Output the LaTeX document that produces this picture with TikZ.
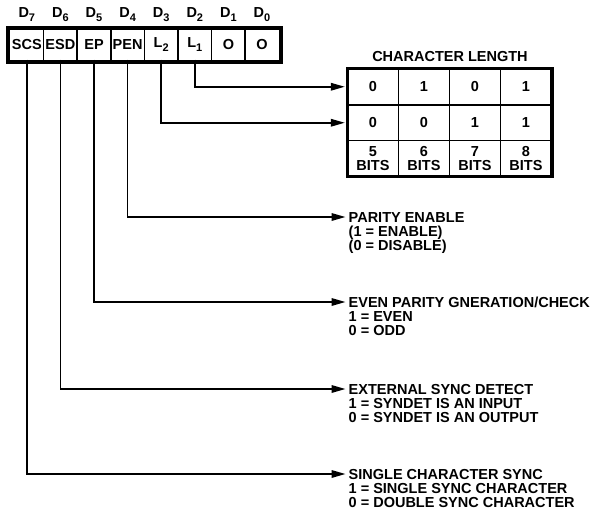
\documentclass[tikz,border=0pt]{standalone}
\usepackage{fontspec}
\setmainfont{Liberation Sans}
\usetikzlibrary{arrows.meta}
\newcommand{\sbs}[1]{\raisebox{-4pt}{\fontsize{11}{11}\selectfont #1}}
\begin{document}
\begin{tikzpicture}[x=1pt,y=-1pt,
  txt/.style={font=\fontsize{14.5}{14}\selectfont\bfseries, inner sep=0pt},
  regcell/.style={txt, minimum width=33.6pt, minimum height=30pt},
  tcell/.style={txt, minimum width=51pt, minimum height=36pt, align=center},
  hdr/.style={txt, anchor=west, text height=10.4pt, text depth=0pt},
  body/.style={txt, anchor=base west, align=left},
  frame/.style={line width=4pt},
  tframe/.style={line width=3.5pt},
  sepl/.style={line width=1.6pt},
  conn/.style={line width=1.7pt, -{Triangle[length=14pt,width=7.5pt]}},
]
\fill[white] (0,0) rectangle (594,517);
\useasboundingbox (0,0) rectangle (594,517);

% register
\foreach \n/\k/\t in {7/0/SCS,6/1/ESD,5/2/EP,4/3/PEN,3/4/L\sbs{2},2/5/L\sbs{1},1/6/O,0/7/O}{
  \node[regcell] (c\n) at ({10+33.6*(\k+0.5)},44.5) {\t};
  \node[txt] (h\n) at ({10+33.6*(\k+0.5)},15) {D\sbs{\n}};
}
\foreach \k in {1,...,7}{
  \draw[sepl] ({10+33.6*\k},29.5) -- ({10+33.6*\k},59.5);
}
\draw[frame] (8,27.5) rectangle (281,61.5);

% character length table
\node[txt] (title) at (450,57) {CHARACTER LENGTH};
\node[tcell] (t11) at (373,86.75) {0};
\node[tcell] (t12) at (424,86.75) {1};
\node[tcell] (t13) at (475,86.75) {0};
\node[tcell] (t14) at (526,86.75) {1};
\node[tcell] (t21) at (373,122.75) {0};
\node[tcell] (t22) at (424,122.75) {0};
\node[tcell] (t23) at (475,122.75) {1};
\node[tcell] (t24) at (526,122.75) {1};
\node[tcell] (t31) at (373,158.5) {5\\BITS};
\node[tcell] (t32) at (424,158.5) {6\\BITS};
\node[tcell] (t33) at (475,158.5) {7\\BITS};
\node[tcell] (t34) at (526,158.5) {8\\BITS};
\foreach \x in {398.5,449.5,500.5}{
  \draw[sepl] (\x,68.5) -- (\x,176.5);
}
\draw[sepl] (347.5,105) -- (552,105);
\draw[sepl] (347.5,140.5) -- (552,140.5);
\draw[tframe] (347.5,68.5) rectangle (552,176.5);

% labels
\node[hdr] (pe) at (348.5,217) {PARITY ENABLE};
\node[body] (peb) at (348.5,250.2) {(1 = ENABLE)\\(0 = DISABLE)};
\node[hdr] (ep) at (348.5,302) {EVEN PARITY GNERATION/CHECK};
\node[body] (epb) at (348.5,335.2) {1 = EVEN\\0 = ODD};
\node[hdr] (esd) at (348.5,389) {EXTERNAL SYNC DETECT};
\node[body] (esdb) at (348.5,422.2) {1 = SYNDET IS AN INPUT\\0 = SYNDET IS AN OUTPUT};
\node[hdr] (scs) at (348.5,474) {SINGLE CHARACTER SYNC};
\node[body] (scsb) at (348.5,507.2) {1 = SINGLE SYNC CHARACTER\\0 = DOUBLE SYNC CHARACTER};

% connectors
\draw[conn, shorten >=2.5pt] (c2.south) |- (t11.west);
\draw[conn, shorten >=2.5pt] (c3.south) |- (t21.west);
\draw[conn, shorten >=3pt] (c4.south) |- (pe.west);
\draw[conn, shorten >=3pt] (c5.south) |- (ep.west);
\draw[conn, shorten >=3pt] (c6.south) |- (esd.west);
\draw[conn, shorten >=3pt] (c7.south) |- (scs.west);
\end{tikzpicture}
\end{document}
